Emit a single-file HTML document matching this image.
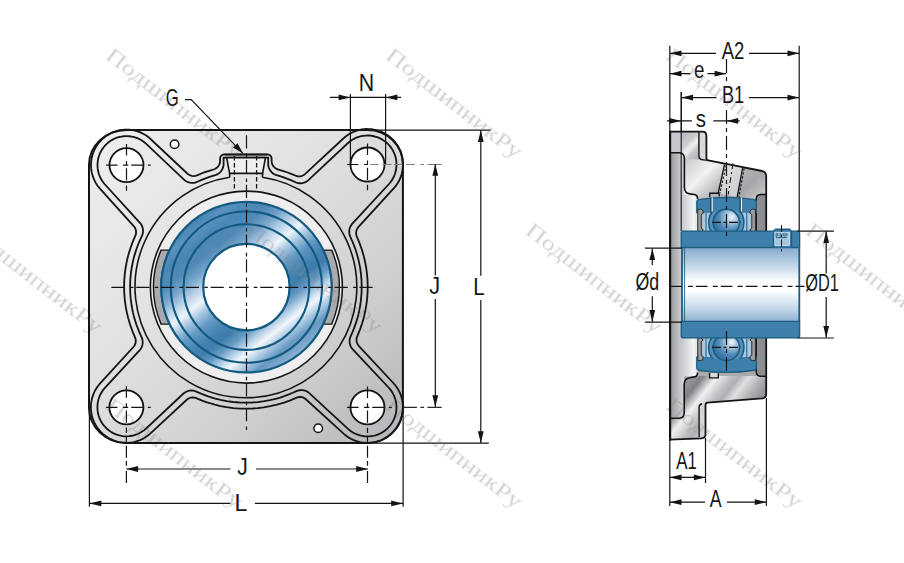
<!DOCTYPE html><html><head><meta charset="utf-8"><style>html,body{margin:0;padding:0;background:#fff;}svg{display:block;}</style></head><body>
<svg width="904" height="563" viewBox="0 0 904 563">
<defs>
<linearGradient id="gflange" gradientUnits="userSpaceOnUse" x1="95" y1="135" x2="400" y2="440">
<stop offset="0" stop-color="#eeeeef"/><stop offset="0.35" stop-color="#e2e3e4"/><stop offset="0.7" stop-color="#cfd0d2"/><stop offset="1" stop-color="#b4b6b9"/>
</linearGradient>
<linearGradient id="gblue" gradientUnits="userSpaceOnUse" x1="194.0" y1="220.1" x2="298.8" y2="354.1">
<stop offset="0.0000" stop-color="#4582b0"/><stop offset="0.0588" stop-color="#5a92be"/><stop offset="0.1235" stop-color="#4b87b4"/><stop offset="0.2059" stop-color="#5189b5"/><stop offset="0.2765" stop-color="#78a6cb"/><stop offset="0.3353" stop-color="#b3cee5"/><stop offset="0.4059" stop-color="#eef4fa"/><stop offset="0.4647" stop-color="#a3c4df"/><stop offset="0.5294" stop-color="#6198c3"/><stop offset="0.6059" stop-color="#4482b0"/><stop offset="0.6529" stop-color="#3f7cab"/><stop offset="0.7118" stop-color="#6599c3"/><stop offset="0.7706" stop-color="#bcd5e9"/><stop offset="0.8118" stop-color="#f2f7fb"/><stop offset="0.8647" stop-color="#acc9e3"/><stop offset="0.9235" stop-color="#6598c2"/><stop offset="1.0000" stop-color="#8cb2d3"/>
</linearGradient>
</defs>
<g id="drw"><rect width="904" height="563" fill="#ffffff"/>
<path d="M126.5 130.0 H367.5 A35.3 34.5 0 0 1 402.9 164.5 V407.4 A35.4 35.7 0 0 1 367.5 443.1 H126.4 A37.4 35.8 0 0 1 89.0 407.3 V165.1 A37.5 35.1 0 0 1 126.5 130.0 Z" fill="url(#gflange)" stroke="#141414" stroke-width="2"/>
<path d="M132.52 331.41 L135.4 338.34 L135.65 339.41 L135.77 340.51 L135.74 341.73 L135.57 342.82 L135.24 343.98 L134.8 345 L134.18 346.04 L133.42 346.99 L100.11 383.44 L98.43 385.44 L97.36 386.88 L96.19 388.65 L95.29 390.21 L94.3 392.15 L93.45 394.09 L92.7 396.14 L92.18 397.86 L91.66 399.97 L91.16 402.98 L90.92 406.02 L90.94 409.07 L91.28 412.48 L91.85 415.48 L92.7 418.46 L93.78 421.31 L95.29 424.39 L96.87 427 L98.67 429.46 L100.71 431.8 L102.91 433.91 L105.58 436.05 L108.13 437.74 L110.8 439.19 L113.6 440.41 L116.96 441.52 L119.02 442.02 L120.79 442.35 L122.89 442.63 L124.69 442.76 L126.81 442.8 L128.6 442.73 L130.72 442.54 L132.5 442.27 L134.58 441.85 L136.31 441.39 L138.33 440.73 L139.96 440.11 L141.6 439.38 L143.49 438.41 L145.05 437.51 L146.82 436.34 L148.26 435.27 L149.94 433.88 L186.99 399.53 L188.25 398.64 L189.65 397.98 L191.14 397.57 L192.57 397.43 L194.12 397.53 L195.62 397.89 L202.74 400.8 L206.25 402.07 L209.8 403.23 L214.83 404.67 L220.65 406.05 L226.53 407.15 L233.19 408.04 L239.9 408.55 L245.87 408.7 L251.85 408.55 L257.81 408.12 L263.75 407.39 L270.37 406.22 L276.92 404.68 L280.52 403.68 L284.08 402.56 L289.71 400.55 L293.18 399.15 L296.55 397.67 L297.49 397.35 L298.46 397.13 L299.56 397.01 L300.55 397.02 L301.65 397.16 L302.82 397.47 L303.85 397.88 L304.9 398.47 L305.87 399.21 L344.96 434.82 L346.73 436.19 L348.85 437.61 L350.79 438.72 L353.09 439.84 L355.16 440.68 L357.59 441.49 L359.75 442.04 L361.89 442.45 L364.43 442.77 L366.66 442.89 L369.21 442.86 L371.39 442.69 L373.6 442.37 L376.1 441.84 L378.25 441.23 L380.66 440.37 L382.7 439.48 L384.97 438.3 L386.88 437.14 L388.67 435.9 L390.67 434.3 L392.31 432.79 L394.08 430.94 L395.5 429.22 L397 427.15 L398.18 425.25 L399.39 423 L400.31 420.96 L401.2 418.56 L401.83 416.42 L402.4 413.93 L402.74 411.72 L402.96 409.17 L403 406.94 L402.87 404.38 L402.55 401.79 L402.14 399.65 L401.59 397.49 L400.92 395.41 L400.12 393.39 L399.2 391.41 L398.16 389.5 L397 387.65 L395.74 385.88 L393.53 383.26 L358.75 345.85 L358.13 345.07 L357.55 344.14 L357.14 343.24 L356.82 342.3 L356.57 341.11 L356.49 339.9 L356.57 338.7 L356.81 337.51 L357.12 336.57 L359.8 330.06 L362 323.71 L363.08 320.13 L364.04 316.52 L365.5 309.95 L366.49 304.06 L367.18 298.12 L367.59 292.16 L367.7 286.18 L367.52 280.2 L366.96 273.5 L366.04 266.84 L364.91 260.97 L363.49 255.16 L361.56 248.72 L359.55 243.09 L356.51 235.74 L356.2 234.34 L356.11 232.8 L356.26 231.37 L356.64 229.99 L357.29 228.59 L358.1 227.4 L394.36 187.71 L396 185.67 L397.48 183.52 L398.8 181.26 L399.94 178.91 L400.77 176.89 L401.48 174.78 L402.13 172.3 L402.55 170.11 L402.83 167.95 L402.99 165.4 L402.97 163.17 L402.79 160.61 L402.47 158.4 L401.94 155.9 L401.33 153.75 L400.47 151.34 L399.58 149.3 L398.4 147.03 L397.24 145.12 L396 143.33 L394.4 141.33 L392.62 139.42 L390.99 137.89 L389.02 136.26 L387.2 134.97 L385.02 133.63 L383.05 132.59 L380.71 131.55 L378.61 130.78 L376.15 130.07 L373.6 129.53 L371.39 129.21 L368.83 129.03 L366.6 129.01 L364.05 129.17 L361.83 129.46 L359.7 129.87 L357.59 130.41 L355.51 131.08 L353.14 132.03 L351.18 132.98 L349.27 134.04 L347.44 135.21 L345.68 136.5 L343.36 138.47 L304.96 174.11 L304.18 174.72 L303.23 175.3 L302.33 175.72 L301.39 176.04 L300.2 176.28 L298.88 176.36 L297.55 176.25 L296.37 175.97 L291.15 173.82 L287.66 172.48 L282.71 170.8 L277.69 169.3 L276.77 168.93 L275.8 168.4 L274.73 167.61 L273.72 166.59 L272.88 165.42 L272.25 164.13 L271.87 162.98 L271.66 161.78 L271.54 157.91 L271.34 157.16 L271 156.44 L270.35 155.61 L269.47 154.95 L268.45 154.53 L267.37 154.4 L224.33 154.4 L223.11 154.57 L222.32 154.9 L221.61 155.37 L221.01 155.99 L220.55 156.71 L220.29 157.35 L220.14 158.01 L220.06 161.7 L219.88 162.79 L219.53 163.95 L218.98 165.16 L218.26 166.27 L217.38 167.26 L216.36 168.11 L215.33 168.76 L214.22 169.26 L209.14 170.78 L204.89 172.21 L201.39 173.52 L196.43 175.56 L194.93 175.93 L193.39 176.03 L191.85 175.88 L190.36 175.46 L189.07 174.84 L187.8 173.96 L149.99 138.49 L147.97 136.83 L145.84 135.33 L143.59 133.99 L140.91 132.66 L138.84 131.82 L136.41 131.01 L134.25 130.46 L132.11 130.05 L129.57 129.73 L127.34 129.61 L124.79 129.64 L122.56 129.82 L120.03 130.19 L117.9 130.66 L115.75 131.27 L113.34 132.13 L111.35 133 L109.36 134.01 L107.16 135.33 L105.33 136.6 L103.33 138.2 L101.69 139.71 L99.92 141.56 L98.5 143.28 L97.21 145.04 L95.84 147.2 L94.78 149.16 L93.71 151.49 L92.92 153.58 L92.18 156.03 L91.68 158.2 L91.27 160.73 L91.07 162.95 L91 165.51 L91.1 167.74 L91.38 170.28 L91.78 172.48 L92.29 174.59 L92.94 176.67 L93.71 178.71 L94.61 180.7 L95.63 182.62 L96.76 184.48 L98 186.27 L100.18 188.93 L133.93 226.3 L134.59 227.19 L135.1 228.04 L135.51 228.95 L135.81 229.9 L136.04 231.09 L136.1 232.3 L136 233.52 L135.77 234.6 L135.41 235.64 L133.96 238.89 L132.54 242.34 L130.26 248.67 L128.32 255.11 L127.4 258.73 L126.59 262.38 L125.53 268.26 L124.76 274.19 L124.29 280.15 L124.1 286.13 L124.25 292.85 L124.76 299.56 L125.64 306.22 L126.74 312.1 L128.31 318.64 L130.24 325.08 Z" fill="none" stroke="#141414" stroke-width="1.8"/>
<path d="M141.52 337.05 L142.13 338.56 L142.49 339.99 L142.68 341.46 L142.68 343.08 L142.46 344.69 L142.07 346.11 L141.44 347.61 L140.62 349.01 L139.52 350.4 L104.01 388.87 L102.11 391.45 L100.51 394.23 L99.33 396.9 L98.35 399.94 L97.77 402.66 L97.48 405.2 L97.41 407.97 L97.58 410.53 L98.02 413.27 L98.66 415.75 L99.49 418.1 L100.64 420.62 L101.88 422.78 L103.34 424.89 L105.13 427.01 L106.95 428.81 L109.1 430.57 L111.22 432.01 L113.65 433.35 L116 434.37 L117.68 434.96 L119.32 435.42 L122.46 436.03 L125.65 436.29 L128.85 436.2 L132.02 435.75 L135.19 434.93 L138.19 433.8 L141.03 432.34 L143.65 430.61 L145.9 428.76 L183.76 393.27 L185.32 392.17 L187.18 391.27 L189.17 390.72 L191.22 390.51 L193.28 390.65 L195.14 391.1 L202.21 394.14 L208.2 396.39 L214.3 398.3 L220.5 399.88 L226.77 401.11 L233.1 401.99 L239.48 402.52 L245.87 402.7 L251.55 402.56 L257.92 402.07 L264.26 401.23 L269.85 400.2 L273.31 399.41 L276.75 398.51 L280.16 397.52 L283.54 396.41 L289.53 394.17 L292.8 392.78 L296.5 391.07 L297.89 390.56 L299.33 390.23 L300.8 390.08 L302.27 390.11 L303.73 390.31 L305.16 390.7 L306.53 391.26 L307.81 391.99 L309 392.86 L348.26 429.1 L349.69 430.28 L351.36 431.49 L352.93 432.47 L354.75 433.45 L356.44 434.21 L358.37 434.92 L360.14 435.45 L362.23 435.92 L364.34 436.23 L366.4 436.38 L368.53 436.38 L370.38 436.26 L372.42 435.98 L374.51 435.54 L376.29 435.03 L378.23 434.34 L380.19 433.48 L381.83 432.61 L383.58 431.53 L385.09 430.46 L386.95 428.91 L388.53 427.37 L390.16 425.49 L391.59 423.54 L392.75 421.66 L393.88 419.44 L394.79 417.2 L395.46 415.1 L396 412.74 L396.33 410.56 L396.49 408.07 L396.45 405.66 L396.23 403.46 L395.8 401.08 L395.16 398.68 L394.41 396.6 L393.39 394.33 L392.21 392.22 L390.81 390.15 L389.25 388.22 L352.33 348.92 L351.46 347.73 L350.68 346.31 L350.14 344.94 L349.75 343.36 L349.59 342.04 L349.58 340.57 L349.73 339.25 L350.03 337.95 L350.52 336.56 L352.04 333.21 L353.41 329.93 L355.62 323.93 L357.5 317.82 L358.39 314.38 L359.18 310.92 L360.22 305.33 L361.07 298.99 L361.56 292.62 L361.7 286.22 L361.48 279.83 L360.92 273.46 L360 267.14 L358.74 260.87 L357.13 254.68 L355.18 248.59 L352.9 242.62 L350.18 236.52 L349.77 235.42 L349.31 233.41 L349.2 231.5 L349.42 229.46 L349.93 227.62 L350.74 225.88 L351.9 224.18 L389.2 183.74 L390.38 182.31 L391.59 180.64 L392.57 179.07 L393.55 177.25 L394.41 175.3 L395.05 173.56 L395.62 171.58 L396.02 169.77 L396.32 167.73 L396.47 165.89 L396.49 163.75 L396.36 161.69 L396.13 159.86 L395.71 157.76 L395.16 155.78 L394.54 154.03 L393.73 152.13 L392.75 150.24 L391.79 148.65 L390.56 146.91 L389.01 145.05 L387.47 143.47 L385.65 141.88 L383.64 140.41 L381.52 139.11 L379.54 138.12 L377.3 137.21 L375.2 136.54 L372.84 136 L370.38 135.64 L368.17 135.51 L365.76 135.55 L363.28 135.81 L361.11 136.21 L358.78 136.84 L356.44 137.69 L354.43 138.61 L352.26 139.83 L350.2 141.23 L348.26 142.8 L308.14 180.43 L306.96 181.32 L305.55 182.11 L304.05 182.71 L302.47 183.1 L301.01 183.27 L299.53 183.26 L298.07 183.07 L296.64 182.7 L295.54 182.28 L290.25 179.93 L286.28 178.37 L281.58 176.73 L275.85 174.97 L274.38 174.29 L273.03 173.41 L271.59 172.15 L270.38 170.68 L269.41 169.04 L268.71 167.26 L268.38 165.84 L268.21 164.38 L268.2 157.7 L223.6 157.7 L223.59 164.38 L223.45 165.69 L223.13 167.12 L222.45 168.91 L221.59 170.44 L220.51 171.83 L219.12 173.14 L217.67 174.14 L216.09 174.92 L210.28 176.71 L205.58 178.34 L201.62 179.9 L196.27 182.22 L195.28 182.53 L194.13 182.77 L193.11 182.9 L191.93 182.93 L189.88 182.71 L188.04 182.19 L186.17 181.31 L184.49 180.13 L146 143.64 L144.59 142.44 L142.88 141.17 L141.13 140.06 L139.25 139.05 L137.3 138.19 L135.56 137.55 L133.58 136.98 L131.49 136.53 L129.38 136.24 L127.53 136.12 L125.47 136.12 L123.62 136.24 L121.58 136.52 L119.76 136.89 L117.71 137.47 L115.77 138.16 L114.07 138.9 L112.24 139.85 L110.65 140.81 L108.91 142.04 L107.05 143.59 L105.47 145.13 L103.88 146.95 L102.57 148.72 L101.29 150.77 L100.27 152.73 L99.33 154.96 L98.56 157.33 L98.05 159.48 L97.68 161.87 L97.52 164.07 L97.53 166.49 L97.72 168.69 L98.12 171.07 L98.74 173.48 L99.46 175.57 L100.42 177.79 L101.61 179.98 L102.98 182.06 L104.52 184.01 L140.38 223.32 L141.23 224.53 L141.99 225.96 L142.51 227.33 L142.88 228.91 L143.03 230.23 L143.01 231.7 L142.85 233.02 L142.54 234.31 L142.03 235.69 L140.34 239.29 L138.93 242.55 L136.64 248.53 L134.69 254.62 L133.75 258.04 L132.92 261.5 L131.69 267.77 L130.89 273.4 L130.37 279.06 L130.11 285.45 L130.21 291.84 L130.41 295.39 L130.73 298.92 L131.57 305.26 L132.18 308.76 L132.91 312.24 L133.74 315.69 L134.67 319.12 L136.62 325.21 L138.9 331.18 Z" fill="none" stroke="#141414" stroke-width="1.8"/>
<path d="M229.8 177.17 A110.9 110.9 0 1 0 262.4 177.23 M229.8 177.17 L229.6 173.4 M262.4 177.23 L262.6 173.4" fill="none" stroke="#141414" stroke-width="1.6"/>
<circle cx="246.4" cy="287.1" r="96.0" fill="#eeeeef" stroke="#141414" stroke-width="1.6"/>
<path d="M169.54 250.1 L161.08 250.1 A93 93 0 0 0 161.08 324.1 L169.54 324.1 A85.3 85.3 0 0 1 169.54 250.1 Z" fill="#a9aaad" stroke="#141414" stroke-width="1.4"/>
<path d="M323.26 250.1 L331.72 250.1 A93 93 0 0 1 331.72 324.1 L323.26 324.1 A85.3 85.3 0 0 0 323.26 250.1 Z" fill="#a9aaad" stroke="#141414" stroke-width="1.4"/>
<circle cx="246.4" cy="287.1" r="85.3" fill="url(#gblue)" stroke="#135a80" stroke-width="2.2"/>
<circle cx="246.4" cy="287.1" r="75.6" fill="none" stroke="#135a80" stroke-width="2.1"/>
<circle cx="246.4" cy="287.1" r="62.8" fill="none" stroke="#135a80" stroke-width="2.1"/>
<circle cx="246.4" cy="287.1" r="43.2" fill="#ffffff" stroke="#135a80" stroke-width="2.2"/>
<circle cx="126.5" cy="165.1" r="17.0" fill="#ffffff" stroke="#141414" stroke-width="1.8"/>
<circle cx="367.5" cy="164.5" r="17.0" fill="#ffffff" stroke="#141414" stroke-width="1.8"/>
<circle cx="126.4" cy="407.3" r="17.0" fill="#ffffff" stroke="#141414" stroke-width="1.8"/>
<circle cx="367.5" cy="407.4" r="17.0" fill="#ffffff" stroke="#141414" stroke-width="1.8"/>
<circle cx="174.6" cy="144.3" r="4.3" fill="#ffffff" stroke="#141414" stroke-width="1.5"/>
<circle cx="318.2" cy="428.3" r="4.3" fill="#ffffff" stroke="#141414" stroke-width="1.5"/>
<path d="M226.6 157.6 L265.4 157.6 L262.6 173.4 L229.6 173.4 Z" fill="#eeeeef" stroke="#141414" stroke-width="1.6"/>
<path d="M224.6 154.6 L267.4 154.6" stroke="#141414" stroke-width="1.8"/>
<path d="M234.4 156 V192 M256.6 156 V192" stroke="#141414" stroke-width="1.3" stroke-dasharray="4.5 2.5"/>
<path d="M111.4 287.3 H373.5" stroke="#141414" stroke-width="1.2" stroke-dasharray="13.2 5.2 3.6 2.8"/>
<path d="M246.5 135.2 V432.8" stroke="#141414" stroke-width="1.2" stroke-dasharray="13.2 5.2 3.6 2.8"/>
<path d="M106.1 165.1 H117.6 M123 165.1 H128.3 M131.3 165.1 H143.5 M147.9 165.1 H150.8 M126.5 144.1 V155.6 M126.5 161 V165.4 M126.5 168.3 V180.5 M126.5 185.4 V190.8" stroke="#141414" stroke-width="1.2" fill="none"/>
<path d="M370 164.5 H378.5 M382.5 164.5 H391.5 M394 164.5 H402.5 M406 164.5 H415 M420.4 164.5 H424 M427.5 164.5 H441.7" stroke="#7e7e7e" stroke-width="1.2" fill="none"/>
<path d="M347.1 164.5 H358.6 M364 164.5 H368 M367.5 143.5 V155 M367.5 160.4 V164.8 M367.5 167.7 V179.9 M367.5 184.8 V190.2" stroke="#141414" stroke-width="1.2" fill="none"/>
<path d="M106 407.3 H117.5 M122.9 407.3 H128.2 M131.2 407.3 H143.4 M147.8 407.3 H150.7 M126.4 386.3 V397.8 M126.4 403.2 V407.6 M126.4 410.5 V422.7 M126.4 427.6 V433 M126.4 436 V443.7 M126.4 445.7 V457.7 M126.4 461 V465.7 M126.4 471 V483" stroke="#141414" stroke-width="1.2" fill="none"/>
<path d="M347.1 407.4 H358.6 M364 407.4 H369.3 M372.3 407.4 H384.5 M388.9 407.4 H391.8 M367.5 386.4 V397.9 M367.5 403.3 V407.7 M367.5 410.6 V422.8 M367.5 427.7 V433.1 M367.5 436 V443.7 M367.5 445.7 V457.7 M367.5 461 V465.7 M367.5 471 V483" stroke="#141414" stroke-width="1.2" fill="none"/>
<path d="M403.5 407.4 H416.9 M420.4 407.4 H424 M427.5 407.4 H441.7" stroke="#2a2a2a" stroke-width="1.2"/>
<path d="M329.9 97.4 H401.1 M350.4 93.9 V164 M385.6 93.9 V164" stroke="#141414" stroke-width="1.2" fill="none"/>
<path d="M350.3 97.4 L338.6 100.3 L338.6 94.5 Z" fill="#141414"/>
<path d="M385.7 97.4 L397.4 94.5 L397.4 100.3 Z" fill="#141414"/>
<path d="M367.5 130.1 H490.6 M367.5 443.1 H488.8" stroke="#141414" stroke-width="1.2" fill="none"/>
<path d="M480.8 130.2 V275.8 M480.8 300.1 V442.9" stroke="#141414" stroke-width="1.2" fill="none"/>
<path d="M480.8 130.2 L483.7 141.9 L477.9 141.9 Z" fill="#141414"/>
<path d="M480.8 442.9 L477.9 431.2 L483.7 431.2 Z" fill="#141414"/>
<path d="M435.3 164 V275.5 M435.3 299.1 V407" stroke="#141414" stroke-width="1.2" fill="none"/>
<path d="M435.3 164 L438.2 175.7 L432.4 175.7 Z" fill="#141414"/>
<path d="M435.3 407 L432.4 395.3 L438.2 395.3 Z" fill="#141414"/>
<path d="M126.4 469 H230.4 M256 469 H367.9" stroke="#141414" stroke-width="1.2" fill="none"/>
<path d="M126.4 469 L138.1 466.1 L138.1 471.9 Z" fill="#141414"/>
<path d="M367.9 469 L356.2 471.9 L356.2 466.1 Z" fill="#141414"/>
<path d="M89.4 407 V506.7 M403.1 407 V506.7" stroke="#141414" stroke-width="1.2" fill="none"/>
<path d="M89.4 503.4 H230.4 M254.9 503.4 H403.1" stroke="#141414" stroke-width="1.2" fill="none"/>
<path d="M89.6 503.4 L101.3 500.5 L101.3 506.3 Z" fill="#141414"/>
<path d="M402.9 503.4 L391.2 506.3 L391.2 500.5 Z" fill="#141414"/>
<path d="M185 99.7 H191.2 L242.9 153.3" stroke="#141414" stroke-width="1.2" fill="none"/>
<path d="M242.9 153.3 L232.96 147.6 L237.57 143.16 Z" fill="#141414"/>
<defs>
<linearGradient id="ghous" gradientUnits="userSpaceOnUse" x1="680" y1="150" x2="772" y2="245">
<stop offset="0" stop-color="#b4b6b9"/><stop offset="0.14" stop-color="#d6d8da"/><stop offset="0.26" stop-color="#f1f2f3"/><stop offset="0.4" stop-color="#b9bbbe"/><stop offset="0.55" stop-color="#a3a5a8"/><stop offset="0.7" stop-color="#c8cacc"/><stop offset="0.82" stop-color="#dcdddf"/><stop offset="1" stop-color="#a9abae"/>
</linearGradient>
<linearGradient id="ghous2" gradientUnits="userSpaceOnUse" x1="684" y1="372" x2="746.4" y2="421.6">
<stop offset="0" stop-color="#a9abae"/><stop offset="0.22" stop-color="#7f8185"/><stop offset="0.36" stop-color="#eef0f1"/><stop offset="0.5" stop-color="#c0c2c5"/><stop offset="0.58" stop-color="#aeb0b3"/><stop offset="0.68" stop-color="#dfe0e2"/><stop offset="0.85" stop-color="#a7a9ac"/><stop offset="1" stop-color="#888a8e"/>
</linearGradient>
<linearGradient id="gstrip" gradientUnits="userSpaceOnUse" x1="670" y1="0" x2="684" y2="0">
<stop offset="0" stop-color="#97999c"/><stop offset="0.7" stop-color="#c3c5c8"/><stop offset="1" stop-color="#d6d8da"/>
</linearGradient>
<linearGradient id="glight" gradientUnits="userSpaceOnUse" x1="681" y1="0" x2="697" y2="0">
<stop offset="0" stop-color="#c4c6c8"/><stop offset="0.8" stop-color="#f3f4f5"/><stop offset="1" stop-color="#e0e1e2"/>
</linearGradient>
<linearGradient id="gbore" gradientUnits="userSpaceOnUse" x1="0" y1="247.5" x2="0" y2="321.5">
<stop offset="0" stop-color="#86abcc"/><stop offset="0.25" stop-color="#c3d7ea"/><stop offset="0.45" stop-color="#fbfdfe"/><stop offset="0.58" stop-color="#ffffff"/><stop offset="0.8" stop-color="#c9dcec"/><stop offset="1" stop-color="#8db1d1"/>
</linearGradient>
<radialGradient id="gball" cx="0.7" cy="0.3" r="0.8">
<stop offset="0" stop-color="#f4f8fc"/><stop offset="0.25" stop-color="#a9c8e2"/><stop offset="0.6" stop-color="#4f8bb8"/><stop offset="1" stop-color="#2c6b97"/>
</radialGradient>
<linearGradient id="gfb" gradientUnits="userSpaceOnUse" x1="670" y1="440" x2="706" y2="410">
<stop offset="0" stop-color="#a3a5a8"/><stop offset="0.4" stop-color="#c3c5c8"/><stop offset="0.6" stop-color="#e3e4e6"/><stop offset="0.8" stop-color="#c0c2c5"/><stop offset="1" stop-color="#b2b4b7"/>
</linearGradient>
<linearGradient id="gftop" gradientUnits="userSpaceOnUse" x1="680" y1="136" x2="700" y2="156">
<stop offset="0" stop-color="#b9bbbe"/><stop offset="0.35" stop-color="#c9cbcd"/><stop offset="0.55" stop-color="#eff0f1"/><stop offset="0.75" stop-color="#c5c7ca"/><stop offset="1" stop-color="#b0b2b5"/>
</linearGradient>
<clipPath id="cpband"><rect x="700" y="211" width="54" height="21"/></clipPath>
</defs>
<path d="M669.9 131.6 H702.4 Q706.4 131.7 706.4 135.8 V158.6 Q706.5 160.1 708.2 160.4 L762.2 171.0 Q766.2 172 766.2 176 V394 Q766.2 398 762.2 398.4 L707.6 402.6 Q705.5 402.9 705.5 405 V434.3 Q705.5 438.2 701.5 438.3 L669.9 439.6 Z" fill="url(#ghous)" stroke="none"/>
<path d="M684 376 L766.2 376 V394 Q766.2 398 762.2 398.4 L707.6 402.6 Q705.5 402.9 705.5 405 V434.3 Q705.5 438.2 701.5 438.3 L669.9 439.6 L670.2 418.3 L679.5 418.3 Q684.2 418 684.2 412.5 Z" fill="url(#ghous2)"/>
<path d="M699.1 436.9 V407 Q699.3 404.4 702 403.8 L705.5 403.2 V434.3 Q705.5 437.8 702 438.1 Z" fill="#d3d5d7"/>
<rect x="670.2" y="152.8" width="14" height="265.5" fill="url(#gstrip)"/>
<rect x="670.2" y="131.6" width="11" height="21.2" fill="#c5c7ca"/>
<path d="M681.6 132.3 H698.9 V156 Q699 159.6 703.5 159.9 L684.6 158.3 Q684.4 153.3 679.5 152.8 H681.6 Z" fill="url(#gftop)"/>
<rect x="699.4" y="132.4" width="6.4" height="27" fill="#d7d9db"/>
<path d="M681.2 195 H697.5 V231 H681.2 Z" fill="url(#glight)"/>
<path d="M681.2 338 H697.5 V376.5 H681.2 Z" fill="url(#glight)"/>
<path d="M756 194.5 H766.2 V231 H756 Z M756 338 H766.2 V375.5 H756 Z" fill="#8c8e91"/>
<path d="M669.9 131.6 H702.4 Q706.4 131.7 706.4 135.8 V158.6 Q706.5 160.1 708.2 160.4 L762.2 171.0 Q766.2 172 766.2 176 V231" fill="none" stroke="#141414" stroke-width="1.8"/>
<path d="M766.2 338 V394 Q766.2 398 762.2 398.4 L707.6 402.6 Q705.5 402.9 705.5 405 V434.3 Q705.5 438.2 701.5 438.3 L669.9 439.6" fill="none" stroke="#141414" stroke-width="1.8"/>
<path d="M670.1 130.8 V440.4" fill="none" stroke="#141414" stroke-width="2.2"/>
<path d="M698.9 131.8 V156 Q699 159.6 703.5 159.9 L708.2 160.4" fill="none" stroke="#141414" stroke-width="1.4"/>
<path d="M699.1 436.9 V407 Q699.3 404.4 702 403.8" fill="none" stroke="#141414" stroke-width="1.4"/>
<path d="M670.2 152.8 H679.5 Q684.4 153.3 684.4 158.5 V187.5 Q684.6 193.3 690 193.9 L695.5 194.8 Q697.6 195.5 697.7 199" fill="none" stroke="#141414" stroke-width="1.6"/>
<path d="M670.2 418.3 H679.5 Q684.2 418 684.2 412.5 V384.3 Q684.4 378.2 690 377.7 L695.5 376.6 Q697.4 376 697.6 372.5" fill="none" stroke="#141414" stroke-width="1.6"/>
<path d="M756.2 231 V199 Q756.5 194.6 760.5 194.4 H766 M756.2 338 V372 Q756.5 376 760.5 376.2 H766" fill="none" stroke="#141414" stroke-width="1.5"/>
<path d="M681.2 91.9 V231" fill="none" stroke="#141414" stroke-width="1.1"/>
<path d="M696.8 212.6 V201.5 Q697 199.6 700 199.3 Q726 195.4 753 199.3 Q756.3 199.7 756.3 202 V212.6 Z" fill="#3d7fab" stroke="#1d5d80" stroke-width="1.3"/>
<rect x="702.5" y="212.6" width="48.5" height="18.6" fill="#a9c8e3"/>
<circle cx="726.3" cy="222.4" r="17.6" fill="#5590be" stroke="#1d5d80" stroke-width="1.6" clip-path="url(#cpband)"/>
<path d="M706 212.6 V231.2 M746.8 212.6 V231.2" stroke="#1d5d80" stroke-width="1"/>
<path d="M697.8 209.5 Q701 208.5 702.6 210 L703.4 213 L701.2 214.5 V228 L703.2 230 L700.5 232 H697.8 Z" fill="#9c9ea1" stroke="#2a2a2a" stroke-width="1"/>
<path d="M755.4 209.5 Q752 208.5 750.6 210 L749.6 213 L751.8 214.5 V228 L749.8 230 L752.5 232 H755.4 Z" fill="#9c9ea1" stroke="#2a2a2a" stroke-width="1"/>
<path d="M712 197.5 V211.5 M741.2 197.5 V211.5" stroke="#e8f0f6" stroke-width="1.6"/>
<path d="M710.9 197.5 V212 M740.2 197.5 V212" stroke="#1a1a1a" stroke-width="0.9"/>
<g transform="translate(0 569.8) scale(1 -1)"><path d="M696.8 212.6 V201.5 Q697 199.6 700 199.3 Q726 195.4 753 199.3 Q756.3 199.7 756.3 202 V212.6 Z" fill="#3d7fab" stroke="#1d5d80" stroke-width="1.3"/>
<rect x="702.5" y="212.6" width="48.5" height="18.6" fill="#a9c8e3"/>
<circle cx="726.3" cy="222.4" r="17.6" fill="#5590be" stroke="#1d5d80" stroke-width="1.6" clip-path="url(#cpband)"/>
<path d="M706 212.6 V231.2 M746.8 212.6 V231.2" stroke="#1d5d80" stroke-width="1"/>
<path d="M697.8 209.5 Q701 208.5 702.6 210 L703.4 213 L701.2 214.5 V228 L703.2 230 L700.5 232 H697.8 Z" fill="#9c9ea1" stroke="#2a2a2a" stroke-width="1"/>
<path d="M755.4 209.5 Q752 208.5 750.6 210 L749.6 213 L751.8 214.5 V228 L749.8 230 L752.5 232 H755.4 Z" fill="#9c9ea1" stroke="#2a2a2a" stroke-width="1"/></g>
<circle cx="726.3" cy="222.4" r="13.2" fill="url(#gball)" stroke="#1d5d80" stroke-width="1.6"/>
<circle cx="726.3" cy="347.4" r="13.2" fill="url(#gball)" stroke="#1d5d80" stroke-width="1.6"/>
<path d="M709.8 196.9 V193.2 H719.2 V196.4" fill="none" stroke="#141414" stroke-width="1.4"/>
<path d="M709.6 373 V377.9 H718.3 V373.2" fill="#dcdcdc" stroke="#141414" stroke-width="1.4"/>
<rect x="682" y="247.3" width="117.4" height="74.3" fill="url(#gbore)"/>
<path d="M681.3 247.5 V233 Q681.3 231.1 683.5 231.1 H797.5 Q799.6 231.2 799.6 233.3 V247.5 Z" fill="#3e80ac" stroke="#1d5d80" stroke-width="1.4"/>
<path d="M681.3 321.4 V336 Q681.3 337.9 683.5 337.9 H797.5 Q799.6 337.8 799.6 335.7 V321.4 Z" fill="#3e80ac" stroke="#1d5d80" stroke-width="1.4"/>
<path d="M682 247.5 V321.4 M799.3 247.5 V321.4" stroke="#1d5d80" stroke-width="1.8"/>
<path d="M684.6 247.5 V321.4" stroke="#1d5d80" stroke-width="0.9"/>
<path d="M773.4 247.4 V231.2 L775.6 229.1 H789.6 L791.6 231.2 V247.4" fill="#3a7ba7" stroke="#1d5d80" stroke-width="1.2"/>
<rect x="774.8" y="232.2" width="14.6" height="13.2" fill="#a6c6e0" stroke="#e6f0f8" stroke-width="0.7"/>
<path d="M776.2 232.8 V237.6 M777.8 233 V236.2 M780.2 232.8 V237.6 M783.2 233 V236.2 M785 232.8 V237.6 M786.8 233 V236 M776.2 237.6 H786.8" stroke="#1d5d80" stroke-width="0.9" fill="none"/>
<path d="M781.5 225 V253" stroke="#141414" stroke-width="1" stroke-dasharray="7 2.5 2.5 2.5"/>
<path d="M725.5 164.8 L742.6 168 L737.2 196.8 L719 193.5 Z" fill="#eef0f2" fill-opacity="0.55"/>
<path d="M724.5 164.6 L718.1 193.5 M742.6 168 L737.2 196.8" stroke="#141414" stroke-width="1.3"/>
<path d="M726.2 164.9 L719.8 193.5 M744.2 168.3 L738.9 196.8" stroke="#141414" stroke-width="1.1" stroke-dasharray="2.5 1.5"/>
<path d="M733 163.3 L728.2 194.7" stroke="#141414" stroke-width="1" stroke-dasharray="6 3 2 3"/>
<path d="M726.5 59 V84.5" stroke="#141414" stroke-width="1.2" stroke-dasharray="14 4 4 4"/>
<path d="M726.5 106 V239.5" stroke="#141414" stroke-width="1.2" stroke-dasharray="14 4 4 4" stroke-dashoffset="-4"/>
<path d="M726.5 331 V372" stroke="#141414" stroke-width="1.2" stroke-dasharray="14 4 4 4"/>
<path d="M670.5 286.4 H682 " stroke="#141414" stroke-width="1.2"/>
<path d="M687.9 286.4 H804.6" stroke="#141414" stroke-width="1.2" stroke-dasharray="5 3 11.7 5.2"/>
<path d="M712 222.4 H741" stroke="#141414" stroke-width="1.1" stroke-dasharray="9 2.5 3 2.5"/>
<path d="M712 347.4 H741" stroke="#141414" stroke-width="1.1" stroke-dasharray="9 2.5 3 2.5"/>
<path d="M669.8 45.7 V131.6 M799.2 45.7 V231 M681.3 91.9 V131.6" stroke="#141414" stroke-width="1.2" fill="none"/>
<path d="M669.8 53.3 H716 M748.9 53.3 H799.2" stroke="#141414" stroke-width="1.2" fill="none"/>
<path d="M669.8 53.3 L681.5 50.4 L681.5 56.2 Z" fill="#141414"/>
<path d="M799.2 53.3 L787.5 56.2 L787.5 50.4 Z" fill="#141414"/>
<path d="M669.8 73.7 H690.5 M707.5 73.7 H726.3" stroke="#141414" stroke-width="1.2" fill="none"/>
<path d="M669.8 73.7 L681.5 70.8 L681.5 76.6 Z" fill="#141414"/>
<path d="M726.3 73.7 L714.6 76.6 L714.6 70.8 Z" fill="#141414"/>
<path d="M681.3 97.6 H716.5 M748.9 97.6 H799.2" stroke="#141414" stroke-width="1.2" fill="none"/>
<path d="M681.3 97.6 L693 94.7 L693 100.5 Z" fill="#141414"/>
<path d="M799.2 97.6 L787.5 100.5 L787.5 94.7 Z" fill="#141414"/>
<path d="M667 120.9 H691.9 M713.3 120.9 H739.7" stroke="#141414" stroke-width="1.2" fill="none"/>
<path d="M681.1 120.9 L669.4 123.8 L669.4 118 Z" fill="#141414"/>
<path d="M726.5 120.9 L738.2 118 L738.2 123.8 Z" fill="#141414"/>
<path d="M644.9 248.2 H682 M644.9 322.1 H682" stroke="#141414" stroke-width="1.2" fill="none"/>
<path d="M652.3 248.4 V265 M652.3 296.2 V321.8" stroke="#141414" stroke-width="1.2" fill="none"/>
<path d="M652.3 248.4 L655.2 260.1 L649.4 260.1 Z" fill="#141414"/>
<path d="M652.3 321.8 L649.4 310.1 L655.2 310.1 Z" fill="#141414"/>
<path d="M797.5 231.1 H833.9 M797.5 338 H833.9" stroke="#141414" stroke-width="1.2" fill="none"/>
<path d="M826.2 231.3 V273.4 M826.2 297 V337.8" stroke="#141414" stroke-width="1.2" fill="none"/>
<path d="M826.2 231.3 L829.1 243 L823.3 243 Z" fill="#141414"/>
<path d="M826.2 337.8 L823.3 326.1 L829.1 326.1 Z" fill="#141414"/>
<path d="M669.8 439 V506 M705.5 438 V483 M766.4 398 V506" stroke="#141414" stroke-width="1.2" fill="none"/>
<path d="M669.8 477.4 H705.5" stroke="#141414" stroke-width="1.2" fill="none"/>
<path d="M669.8 477.4 L681.5 474.5 L681.5 480.3 Z" fill="#141414"/>
<path d="M705.5 477.4 L693.8 480.3 L693.8 474.5 Z" fill="#141414"/>
<path d="M669.8 502.2 H705 M727 502.2 H766.4" stroke="#141414" stroke-width="1.2" fill="none"/>
<path d="M669.8 502.2 L681.5 499.3 L681.5 505.1 Z" fill="#141414"/>
<path d="M766.4 502.2 L754.7 505.1 L754.7 499.3 Z" fill="#141414"/>
<g font-family="Liberation Sans, sans-serif" fill="#161616"><text transform="translate(165.86 105.9) scale(0.711 1)" font-size="23.5">G</text>
<text transform="translate(358.85 91.4) scale(0.907 1)" font-size="23.5">N</text>
<text transform="translate(429.25 293.8) scale(0.926 1)" font-size="23.5">J</text>
<text transform="translate(473.22 294.8) scale(0.870 1)" font-size="23.5">L</text>
<text transform="translate(237.26 475.1) scale(0.895 1)" font-size="23.5">J</text>
<text transform="translate(234.5 510.7) scale(0.986 1)" font-size="23.5">L</text>
<text transform="translate(721.76 58.6) scale(0.789 1)" font-size="23.5">A2</text>
<text transform="translate(693.91 78.3) scale(0.798 1)" font-size="23.5">e</text>
<text transform="translate(721.91 103.4) scale(0.772 1)" font-size="23.5">B1</text>
<text transform="translate(695.83 127.2) scale(0.871 1)" font-size="23.5">s</text>
<text transform="translate(635.58 289.8) scale(0.755 1)" font-size="23.5">&#216;d</text>
<text transform="translate(805.23 290.9) scale(0.697 1)" font-size="23.5">&#216;D1</text>
<text transform="translate(676.27 468.9) scale(0.716 1)" font-size="23.5">A1</text>
<text transform="translate(709.76 506.5) scale(0.752 1)" font-size="23.5">A</text></g>
</g>
<defs><filter id="thr" filterUnits="userSpaceOnUse" x="0" y="0" width="904" height="563" color-interpolation-filters="sRGB">
<feColorMatrix type="matrix" values="0.2126 0.7152 0.0722 0 0 0.2126 0.7152 0.0722 0 0 0.2126 0.7152 0.0722 0 0 0 0 0 1 0"/>
<feComponentTransfer><feFuncR type="linear" slope="5" intercept="-1.25"/><feFuncG type="linear" slope="5" intercept="-1.25"/><feFuncB type="linear" slope="5" intercept="-1.25"/></feComponentTransfer>
</filter>
<mask id="wmm" maskUnits="userSpaceOnUse" x="0" y="0" width="904" height="563"><use href="#drw" filter="url(#thr)"/></mask></defs>
<g mask="url(#wmm)" font-family="Liberation Serif, serif" font-size="22" fill="#8c8c8c" fill-opacity="0.38"><text transform="translate(-35.7 -117.1) rotate(37.7)" textLength="166" lengthAdjust="spacingAndGlyphs">ПодшипникРу</text>
<text transform="translate(244.3 -117.1) rotate(37.7)" textLength="166" lengthAdjust="spacingAndGlyphs">ПодшипникРу</text>
<text transform="translate(524.3 -117.1) rotate(37.7)" textLength="166" lengthAdjust="spacingAndGlyphs">ПодшипникРу</text>
<text transform="translate(804.3 -117.1) rotate(37.7)" textLength="166" lengthAdjust="spacingAndGlyphs">ПодшипникРу</text>
<text transform="translate(-175.7 57.9) rotate(37.7)" textLength="166" lengthAdjust="spacingAndGlyphs">ПодшипникРу</text>
<text transform="translate(104.3 57.9) rotate(37.7)" textLength="166" lengthAdjust="spacingAndGlyphs">ПодшипникРу</text>
<text transform="translate(384.3 57.9) rotate(37.7)" textLength="166" lengthAdjust="spacingAndGlyphs">ПодшипникРу</text>
<text transform="translate(664.3 57.9) rotate(37.7)" textLength="166" lengthAdjust="spacingAndGlyphs">ПодшипникРу</text>
<text transform="translate(-35.7 232.9) rotate(37.7)" textLength="166" lengthAdjust="spacingAndGlyphs">ПодшипникРу</text>
<text transform="translate(244.3 232.9) rotate(37.7)" textLength="166" lengthAdjust="spacingAndGlyphs">ПодшипникРу</text>
<text transform="translate(524.3 232.9) rotate(37.7)" textLength="166" lengthAdjust="spacingAndGlyphs">ПодшипникРу</text>
<text transform="translate(804.3 232.9) rotate(37.7)" textLength="166" lengthAdjust="spacingAndGlyphs">ПодшипникРу</text>
<text transform="translate(-175.7 407.9) rotate(37.7)" textLength="166" lengthAdjust="spacingAndGlyphs">ПодшипникРу</text>
<text transform="translate(104.3 407.9) rotate(37.7)" textLength="166" lengthAdjust="spacingAndGlyphs">ПодшипникРу</text>
<text transform="translate(384.3 407.9) rotate(37.7)" textLength="166" lengthAdjust="spacingAndGlyphs">ПодшипникРу</text>
<text transform="translate(664.3 407.9) rotate(37.7)" textLength="166" lengthAdjust="spacingAndGlyphs">ПодшипникРу</text></g>
</svg></body></html>
